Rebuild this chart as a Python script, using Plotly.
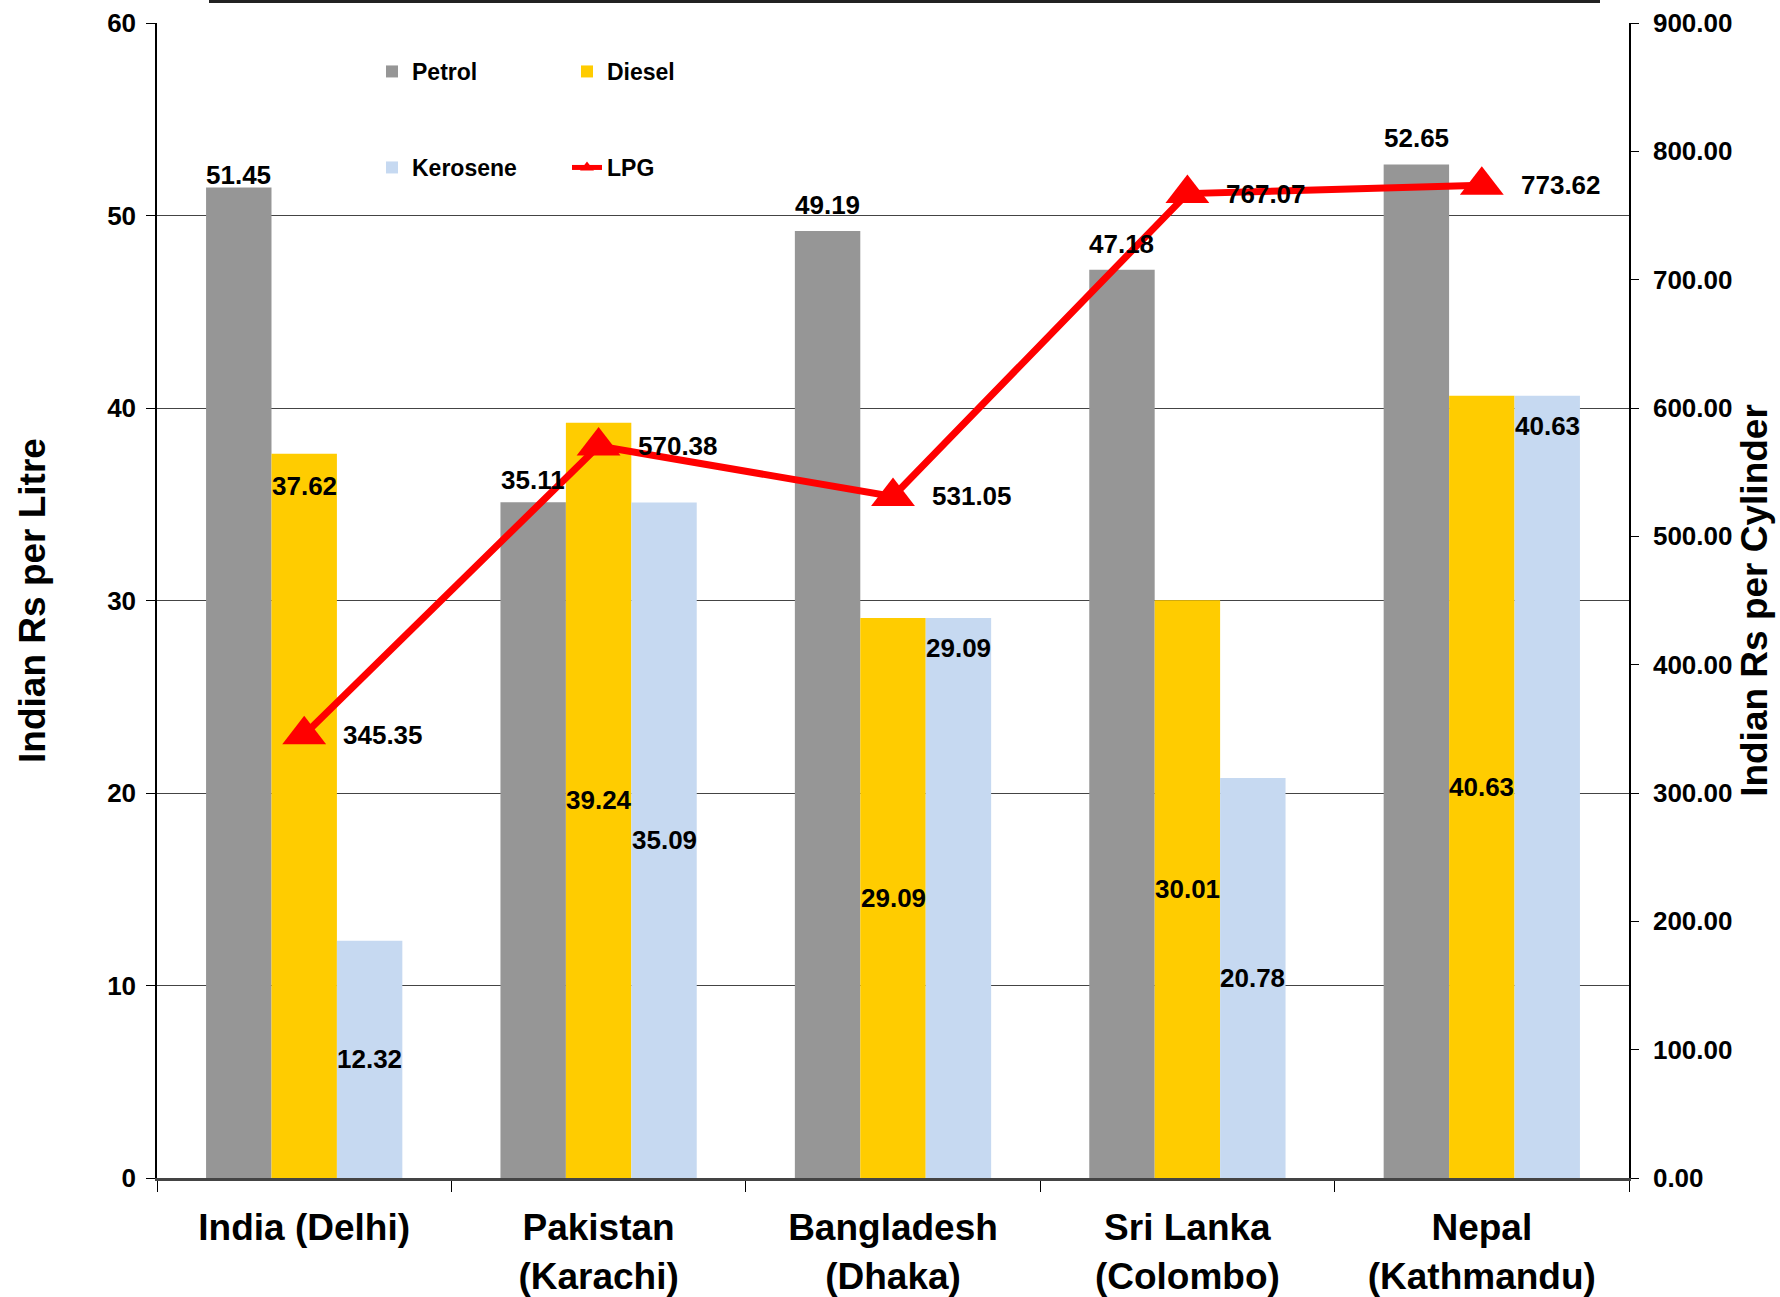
import plotly.graph_objects as go

categories = ["India (Delhi)", "Pakistan<br>(Karachi)", "Bangladesh<br>(Dhaka)",
              "Sri Lanka<br>(Colombo)", "Nepal<br>(Kathmandu)"]
petrol = [51.45, 35.11, 49.19, 47.18, 52.65]
diesel = [37.62, 39.24, 29.09, 30.01, 40.63]
kerosene = [12.32, 35.09, 29.09, 20.78, 40.63]
lpg = [345.35, 570.38, 531.05, 767.07, 773.62]

# label placement styles (not data)
petrol_label_lift = [13, 22, 26, 26, 26]
diesel_label_mode = ["top", "mid", "mid", "mid", "mid"]
kerosene_label_mode = ["mid", "mid", "top", "mid", "top"]

FONT = "Liberation Sans, Arial, sans-serif"
W, H = 1780, 1297
ML, MR, MT, MB = 157, 151, 23, 119
PW = W - ML - MR
PH = H - MT - MB
BAR_PX = PW / len(categories) * (1 - 0.3333) / 3

fig = go.Figure()
fig.add_trace(go.Bar(name="Petrol", x=categories, y=petrol, marker_color="#969696",
                     marker_line_width=0, legend="legend"))
fig.add_trace(go.Bar(name="Diesel", x=categories, y=diesel, marker_color="#FFCC00",
                     marker_line_width=0, legend="legend"))
fig.add_trace(go.Bar(name="Kerosene", x=categories, y=kerosene, marker_color="#C6D9F1",
                     marker_line_width=0, legend="legend2"))
fig.add_trace(go.Scatter(name="LPG", x=categories, y=lpg, yaxis="y2", mode="lines+markers",
                         line=dict(color="#FF0000", width=7),
                         marker=dict(symbol="triangle-up", size=38, color="#FF0000"),
                         legend="legend2", cliponaxis=False))

lab_font = dict(family=FONT, size=26, color="black", weight="bold")
ann = []
for i, c in enumerate(categories):
    ann.append(dict(x=c, y=petrol[i], xref="x", yref="y", text=f"{petrol[i]:.2f}",
                    xshift=-BAR_PX, yshift=petrol_label_lift[i], yanchor="middle",
                    showarrow=False, font=lab_font))
    yd = diesel[i] / 2 if diesel_label_mode[i] == "mid" else diesel[i]
    ann.append(dict(x=c, y=yd, xref="x", yref="y", text=f"{diesel[i]:.2f}",
                    xshift=0, yshift=0 if diesel_label_mode[i] == "mid" else -32,
                    yanchor="middle", showarrow=False, font=lab_font))
    yk = kerosene[i] / 2 if kerosene_label_mode[i] == "mid" else kerosene[i]
    ann.append(dict(x=c, y=yk, xref="x", yref="y", text=f"{kerosene[i]:.2f}",
                    xshift=BAR_PX, yshift=0 if kerosene_label_mode[i] == "mid" else -30,
                    yanchor="middle", showarrow=False, font=lab_font))
    ann.append(dict(x=c, y=lpg[i], xref="x", yref="y2", text=f"{lpg[i]:.2f}",
                    xshift=37, xanchor="left", yanchor="middle",
                    showarrow=False, font=lab_font))


def px2paper_x(px):
    return (px - ML) / PW


def px2paper_y(py):
    return (H - MB - py) / PH


shapes = [
    # white gap behind legend on the top gridline
    dict(type="rect", xref="paper", yref="paper", x0=px2paper_x(338), x1=px2paper_x(730),
         y0=px2paper_y(28), y1=px2paper_y(18), fillcolor="white", line_width=0, layer="below"),
    # partial border of title box at very top
    dict(type="line", xref="paper", yref="paper", x0=px2paper_x(209), x1=px2paper_x(1600),
         y0=px2paper_y(1.5), y1=px2paper_y(1.5), line=dict(color="#222222", width=3)),
]

leg_common = dict(orientation="h", xanchor="left", yanchor="top", bgcolor="rgba(0,0,0,0)",
                  font=dict(family=FONT, size=23, color="black", weight="bold"),
                  entrywidth=150, entrywidthmode="pixels", itemsizing="constant")

fig.update_layout(
    width=W, height=H,
    margin=dict(l=ML, r=MR, t=MT, b=MB, pad=0, autoexpand=False),
    paper_bgcolor="white", plot_bgcolor="white",
    barmode="group", bargap=0.3333, bargroupgap=0,
    font=dict(family=FONT, color="black"),
    legend=dict(x=px2paper_x(372), y=px2paper_y(50), **leg_common),
    legend2=dict(x=px2paper_x(372), y=px2paper_y(146), **leg_common),
    annotations=ann,
    shapes=shapes,
    xaxis=dict(
        type="category", tickson="boundaries", ticks="outside", ticklen=11, tickwidth=1,
        tickcolor="black", showline=True, linecolor="#444444", linewidth=3,
        tickfont=dict(family=FONT, size=37, color="black", weight="bold"),
        ticklabelstandoff=15, showgrid=False, zeroline=False, automargin=False,
    ),
    yaxis=dict(
        range=[0, 60], dtick=10, ticks="outside", ticklen=9, tickcolor="black",
        showline=True, linecolor="black", linewidth=1.5, automargin=False,
        showgrid=True, gridcolor="#444444", gridwidth=1.2, zeroline=False,
        tickfont=dict(family=FONT, size=26, color="black", weight="bold"),
        ticklabelstandoff=5,
        title=dict(text="Indian Rs per Litre", standoff=50,
                   font=dict(family=FONT, size=37, color="black", weight="bold")),
    ),
    yaxis2=dict(
        range=[0, 900], dtick=100, tickformat=".2f", overlaying="y", side="right",
        ticks="outside", ticklen=8, tickcolor="black", showline=True, linecolor="black",
        linewidth=1.5, showgrid=False, zeroline=False, automargin=False,
        tickfont=dict(family=FONT, size=26, color="black", weight="bold"),
        ticklabelstandoff=9,
        title=dict(text="Indian Rs per Cylinder", standoff=10,
                   font=dict(family=FONT, size=37, color="black", weight="bold")),
    ),
)

# remove the browser's default 8px body margin so the figure fills the window exactly
fig.write_html("out.html", config={"displayModeBar": False},
               post_script="document.body.style.margin='0';document.body.style.overflow='hidden';")
